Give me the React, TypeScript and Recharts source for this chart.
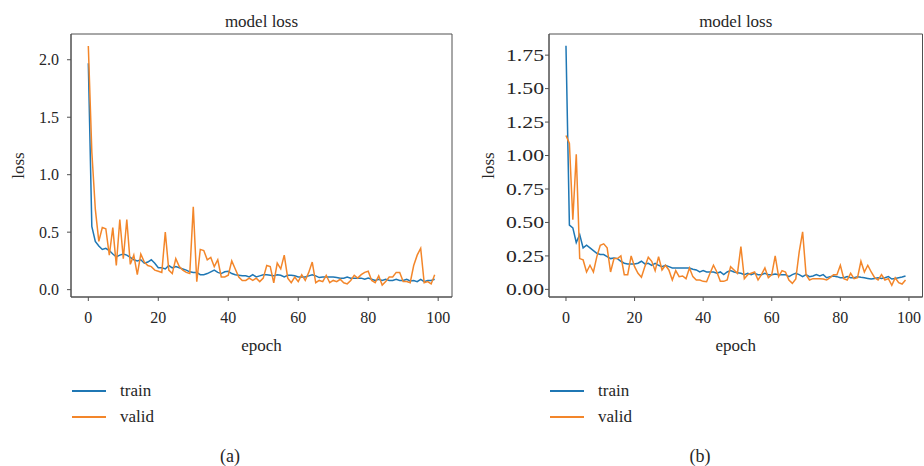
import { LineChart, Line, XAxis, YAxis, ReferenceArea, Legend } from 'recharts'

const FONT = "'Liberation Serif', 'Times New Roman', serif"
const INK = '#262626'
const FRAME = '#505050'
const BLUE = '#1f77b4'
const ORANGE = '#f3862a'

const epochTicks = [0, 20, 40, 60, 80, 100]
const lossTicksA = [0, 0.5, 1.0, 1.5, 2.0]
const lossTicksB = [0, 0.25, 0.5, 0.75, 1.0, 1.25, 1.5, 1.75]
const xDomain: [number, number] = [-4.95, 103.95]
const yDomainA: [number, number] = [-0.064, 2.224]
const yDomainB: [number, number] = [-0.057, 1.908]

// (a)
const trainA = [
  1.97, 0.55, 0.42, 0.38, 0.35, 0.36, 0.34, 0.31, 0.285, 0.3,
  0.31, 0.3, 0.28, 0.26, 0.25, 0.26, 0.23, 0.24, 0.26, 0.23,
  0.19, 0.19, 0.18, 0.21, 0.19, 0.2, 0.19, 0.18, 0.17, 0.155,
  0.15, 0.15, 0.13, 0.13, 0.14, 0.155, 0.17, 0.15, 0.14, 0.155,
  0.16, 0.14, 0.13, 0.125, 0.12, 0.12, 0.11, 0.13, 0.11, 0.12,
  0.13, 0.13, 0.125, 0.12, 0.13, 0.125, 0.11, 0.125, 0.125, 0.12,
  0.11, 0.11, 0.11, 0.12, 0.13, 0.12, 0.105, 0.11, 0.11, 0.11,
  0.11, 0.105, 0.1, 0.1, 0.11, 0.1, 0.1, 0.1, 0.1, 0.09,
  0.1, 0.09, 0.08, 0.09, 0.08, 0.09, 0.08, 0.08, 0.09, 0.08,
  0.08, 0.09, 0.075, 0.08, 0.07, 0.09, 0.07, 0.08, 0.08, 0.09,
]
const validA = [
  2.12, 1.2, 0.7, 0.42, 0.54, 0.53, 0.3, 0.54, 0.21, 0.61,
  0.27, 0.61, 0.22, 0.3, 0.13, 0.31, 0.24, 0.21, 0.2, 0.17,
  0.16, 0.15, 0.5, 0.17, 0.14, 0.27, 0.2, 0.17, 0.15, 0.14,
  0.72, 0.07, 0.35, 0.34, 0.26, 0.28, 0.2, 0.26, 0.11, 0.11,
  0.125, 0.25, 0.18, 0.11, 0.08, 0.08, 0.1, 0.08, 0.1, 0.07,
  0.1, 0.21, 0.2, 0.06, 0.23, 0.18, 0.3, 0.1, 0.06, 0.11,
  0.07, 0.13, 0.08, 0.15, 0.24, 0.06, 0.08, 0.07, 0.125, 0.06,
  0.08, 0.07, 0.09, 0.06, 0.05, 0.08, 0.125, 0.1, 0.13, 0.15,
  0.16, 0.08, 0.06, 0.12, 0.04, 0.07, 0.11, 0.11, 0.15, 0.15,
  0.07, 0.07, 0.06, 0.21, 0.3, 0.36, 0.06, 0.07, 0.05, 0.13,
]

// (b)
const trainB = [
  1.82, 0.48, 0.46, 0.35, 0.41, 0.31, 0.33, 0.31, 0.29, 0.27,
  0.26, 0.26, 0.245, 0.23, 0.235, 0.23, 0.21, 0.195, 0.19, 0.19,
  0.19, 0.195, 0.21, 0.19, 0.195, 0.18, 0.195, 0.18, 0.17, 0.18,
  0.17, 0.16, 0.16, 0.16, 0.16, 0.16, 0.16, 0.15, 0.145, 0.13,
  0.14, 0.13, 0.13, 0.13, 0.12, 0.13, 0.11, 0.13, 0.14, 0.13,
  0.125, 0.12, 0.11, 0.12, 0.11, 0.12, 0.11, 0.11, 0.12, 0.11,
  0.11, 0.115, 0.11, 0.11, 0.11, 0.095, 0.11, 0.12, 0.11, 0.095,
  0.11, 0.095, 0.1, 0.11, 0.1, 0.11, 0.087, 0.095, 0.1, 0.095,
  0.087, 0.087, 0.095, 0.087, 0.087, 0.095, 0.09, 0.087, 0.082, 0.077,
  0.082, 0.087, 0.082, 0.087, 0.095, 0.077, 0.082, 0.087, 0.092, 0.1,
]
const validB = [
  1.15, 1.09, 0.52, 1.01, 0.23, 0.22, 0.13, 0.18, 0.13, 0.245,
  0.33, 0.34, 0.31, 0.13, 0.23, 0.23, 0.25, 0.11, 0.11, 0.25,
  0.17, 0.12, 0.09, 0.17, 0.24, 0.21, 0.14, 0.245, 0.145, 0.18,
  0.145, 0.07, 0.14, 0.095, 0.1, 0.08, 0.16, 0.095, 0.07, 0.07,
  0.06, 0.057, 0.12, 0.18, 0.13, 0.06, 0.06, 0.07, 0.17, 0.145,
  0.12, 0.32, 0.08, 0.11, 0.12, 0.13, 0.07, 0.11, 0.16, 0.087,
  0.11, 0.25, 0.095, 0.14, 0.13, 0.07, 0.045, 0.077, 0.28, 0.43,
  0.11, 0.07, 0.08, 0.08, 0.08, 0.077, 0.07, 0.087, 0.11, 0.11,
  0.18, 0.08, 0.07, 0.12, 0.08, 0.087, 0.21, 0.13, 0.18, 0.13,
  0.087, 0.07, 0.11, 0.07, 0.08, 0.03, 0.087, 0.05, 0.04, 0.07,
]

const toRows = (train: number[], valid: number[]) =>
  train.map((t, i) => ({ epoch: i, train: t, valid: valid[i] }))

const renderLegend = (props: any) => (
  <div style={{ fontFamily: FONT, fontSize: 17, color: INK }}>
    {(props.payload || []).map((entry: any) => (
      <div key={entry.value} style={{ display: 'flex', alignItems: 'center', height: 26 }}>
        <svg width={34} height={4}>
          <line x1={0} y1={2} x2={34} y2={2} stroke={entry.color} strokeWidth={2} />
        </svg>
        <span style={{ marginLeft: 14, lineHeight: '26px' }}>{entry.value}</span>
      </div>
    ))}
  </div>
)

// right panel's y labels are drawn stretched in the original
const WideYTick = (props: any) => {
  const { x, y, payload } = props
  return (
    <text
      x={x}
      y={y}
      dy="0.355em"
      textAnchor="end"
      fontFamily={FONT}
      fontSize={16}
      fill={INK}
      textLength={38}
      lengthAdjust="spacingAndGlyphs"
    >
      {Number(payload.value).toFixed(2)}
    </text>
  )
}

interface PanelProps {
  left: number
  train: number[]
  valid: number[]
  yDomain: [number, number]
  yTicks: number[]
  yWidth: number
  rightGap: number
  wide?: boolean
}

function LossPanel({ left, train, valid, yDomain, yTicks, yWidth, rightGap, wide }: PanelProps) {
  const rows = toRows(train, valid)
  return (
    <div style={{ position: 'absolute', left, top: 0 }}>
      <LineChart
        width={462}
        height={466}
        data={rows}
        margin={{ top: 34, right: rightGap, bottom: 109, left: 0 }}
      >
        <XAxis
          dataKey="epoch"
          type="number"
          domain={xDomain}
          ticks={epochTicks}
          height={60}
          tickSize={4}
          tickMargin={11}
          stroke={FRAME}
          tick={{ fill: INK, fontSize: 16, fontFamily: FONT }}
          label={{ value: 'epoch', position: 'center', dy: 18, fill: INK, fontSize: 17, fontFamily: FONT }}
        />
        <YAxis
          type="number"
          domain={yDomain}
          ticks={yTicks}
          width={yWidth}
          tickSize={4}
          tickMargin={wide ? 1 : 8}
          stroke={FRAME}
          tick={wide ? <WideYTick /> : { fill: INK, fontSize: 16, fontFamily: FONT }}
          tickFormatter={(v: number) => v.toFixed(1)}
          label={{ value: 'loss', angle: -90, position: 'center', dx: -17.5, fill: INK, fontSize: 17, fontFamily: FONT }}
        />
        <ReferenceArea
          x1={xDomain[0]}
          x2={xDomain[1]}
          y1={yDomain[0]}
          y2={yDomain[1]}
          fill="none"
          stroke={FRAME}
          strokeWidth={1}
          ifOverflow="visible"
          label={{ value: 'model loss', position: 'top', offset: 7, fill: INK, fontSize: 17, fontFamily: FONT }}
        />
        <Line type="linear" dataKey="train" name="train" stroke={BLUE} strokeWidth={1.5} dot={false} isAnimationActive={false} />
        <Line type="linear" dataKey="valid" name="valid" stroke={ORANGE} strokeWidth={1.5} dot={false} isAnimationActive={false} />
        <Legend
          layout="horizontal"
          verticalAlign="middle"
          align="center"
          content={renderLegend}
          wrapperStyle={{ left: wide ? 88 : 72, top: 378, width: 200 }}
        />
      </LineChart>
    </div>
  )
}

const captionStyle = {
  position: 'absolute' as const,
  top: 445,
  width: 40,
  textAlign: 'center' as const,
  fontFamily: FONT,
  fontSize: 18,
  lineHeight: '22px',
  color: INK,
}

export default function App() {
  return (
    <div style={{ position: 'absolute', left: 0, top: 0, width: 924, height: 466, background: '#fff' }}>
      <LossPanel left={0} train={trainA} valid={validA} yDomain={yDomainA} yTicks={lossTicksA} yWidth={71} rightGap={10} />
      <LossPanel left={462} train={trainB} valid={validB} yDomain={yDomainB} yTicks={lossTicksB} yWidth={87} rightGap={1.5} wide />
      <div style={{ ...captionStyle, left: 210 }}>(a)</div>
      <div style={{ ...captionStyle, left: 680 }}>(b)</div>
    </div>
  )
}
